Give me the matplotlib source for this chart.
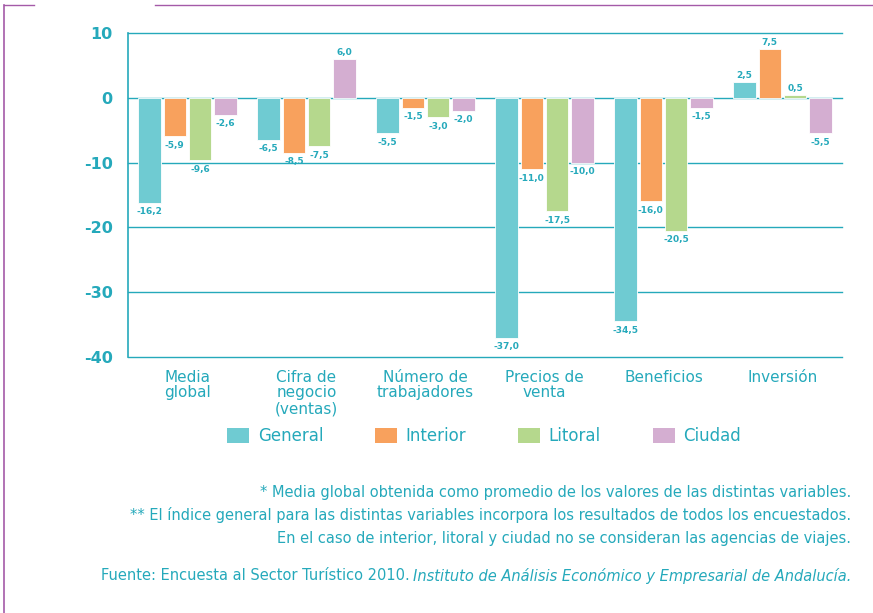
import numpy as np
import matplotlib.pyplot as plt
from matplotlib.patches import Patch
from matplotlib.lines import Line2D

categories = ["Media\nglobal", "Cifra de\nnegocio\n(ventas)", "Número de\ntrabajadores",
              "Precios de\nventa", "Beneficios", "Inversión"]
general = [-16.2, -6.5, -5.5, -37.0, -34.5, 2.5]
interior = [-5.9, -8.5, -1.5, -11.0, -16.0, 7.5]
litoral = [-9.6, -7.5, -3.0, -17.5, -20.5, 0.5]
ciudad = [-2.6, 6.0, -2.0, -10.0, -1.5, -5.5]
series_names = ["General", "Interior", "Litoral", "Ciudad"]

colors = ["#6fcbd2", "#f8a15d", "#b5d88d", "#d4aed1"]
teal = "#25a9bb"

fig = plt.figure(figsize=(8.73, 6.13), dpi=100)
ax = fig.add_axes([128 / 873, 1 - 357 / 613, 714 / 873, 324 / 613])

x = np.arange(len(categories)) + 0.5
w = 0.19
step = 0.213
for i, (vals, c) in enumerate(zip([general, interior, litoral, ciudad], colors)):
    pos = x + (i - 1.5) * step
    ax.bar(pos, vals, width=w, color=c, edgecolor="white", linewidth=0.6, zorder=3)
    for p, v in zip(pos, vals):
        lab = ("%.1f" % v).replace(".", ",")
        if v < 0:
            ax.text(p, v - 0.7, lab, ha="center", va="top", fontsize=6.5,
                    color=teal, fontweight="bold", zorder=4)
        else:
            ax.text(p, v + 0.3, lab, ha="center", va="bottom", fontsize=6.5,
                    color=teal, fontweight="bold", zorder=4)

ax.set_xlim(0, 6)
ax.set_ylim(-40, 10)
ax.set_yticks([10, 0, -10, -20, -30, -40])
ax.set_yticklabels(["10", "0", "-10", "-20", "-30", "-40"], fontsize=11.5,
                   fontweight="bold", color=teal)
ax.tick_params(axis="y", length=0, pad=11)
for yv in [10, 0, -10, -20, -30, -40]:
    ax.axhline(yv, color=teal, linewidth=1.0, zorder=1, clip_on=False)
ax.set_xticks(x)
ax.set_xticklabels(categories, fontsize=11, color=teal, linespacing=1.08)
ax.tick_params(axis="x", length=0, pad=9)
for s in ["top", "right", "bottom"]:
    ax.spines[s].set_visible(False)
ax.spines["left"].set_color(teal)
ax.spines["left"].set_linewidth(1.2)

handles = [Patch(facecolor=c, edgecolor="none") for c in colors]
fig.legend(handles, series_names, loc="center", bbox_to_anchor=(484 / 873, 1 - 436 / 613),
           ncol=4, frameon=False, handlelength=1.35, handleheight=1.0,
           columnspacing=3.1, handletextpad=0.5, labelcolor=teal,
           prop={"size": 12})

notes = ["* Media global obtenida como promedio de los valores de las distintas variables.",
         "** El índice general para las distintas variables incorpora los resultados de todos los encuestados.",
         "En el caso de interior, litoral y ciudad no se consideran las agencias de viajes."]
for t, yy in zip(notes, [492, 515, 539]):
    fig.text(851 / 873, 1 - yy / 613, t, ha="right", va="center", fontsize=10.5,
             color=teal)

src_it = fig.text(851 / 873, 1 - 576 / 613,
                  "Instituto de Análisis Económico y Empresarial de Andalucía.",
                  ha="right", va="center", fontsize=10.5, color=teal, style="italic")
fig.canvas.draw()
bb = src_it.get_window_extent()
fig.text((bb.x0 - 3) / 873, 1 - 576 / 613, "Fuente: Encuesta al Sector Turístico 2010.",
         ha="right", va="center", fontsize=10.5, color=teal)

# purple frame decoration
purple = "#a45aa8"
fig.add_artist(Line2D([4 / 873, 4 / 873], [1 - 5 / 613, 0], color=purple, linewidth=1.2))
fig.add_artist(Line2D([4 / 873, 34 / 873], [1 - 5 / 613, 1 - 5 / 613], color=purple, linewidth=1.0))
fig.add_artist(Line2D([155 / 873, 1], [1 - 5 / 613, 1 - 5 / 613], color=purple, linewidth=1.0))

fig.savefig("out.png", dpi=100)
